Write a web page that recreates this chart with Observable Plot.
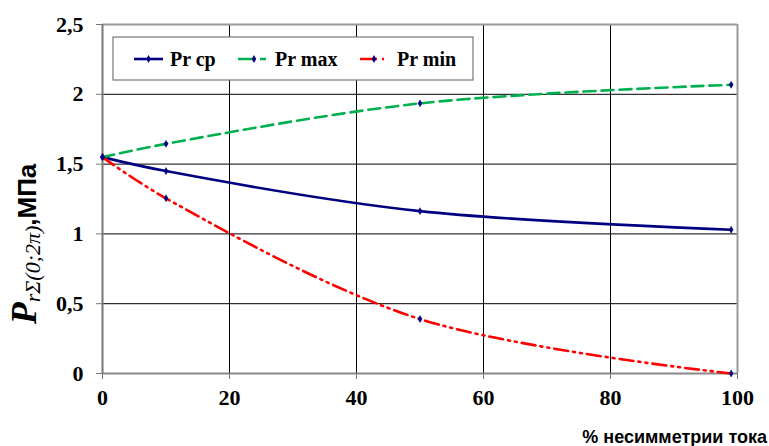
<!DOCTYPE html>
<html><head><meta charset="utf-8">
<script src="https://cdn.jsdelivr.net/npm/d3@7"></script>
<script src="https://cdn.jsdelivr.net/npm/@observablehq/plot@0.6"></script>
<style>body{margin:0;background:#fff}
#chart svg text, #chart svg tspan {font-family: 'Liberation Serif', 'Times New Roman', serif !important;}
#chart svg .sans {font-family: 'Liberation Sans', Arial, sans-serif !important;}
</style>
</head><body><div id="chart"></div>
<script>
const xs = [0, 10, 50, 99];
const prCp = [1.55, 1.45, 1.163, 1.03];
const prMax = [1.55, 1.645, 1.935, 2.068];
const prMin = [1.55, 1.255, 0.39, 0.0];
const seriesNames = ["Pr cp", "Pr max", "Pr min"];
const xTicks = [0, 20, 40, 60, 80, 100];
const yTicks = [0, 0.5, 1, 1.5, 2, 2.5];

const colors = {"Pr cp": "#000080", "Pr max": "#00B050", "Pr min": "#FF0000"};
const dashes = {"Pr cp": null, "Pr max": "12,6", "Pr min": "14,5,2,5,2,5"};
const vals = {"Pr cp": prCp, "Pr max": prMax, "Pr min": prMin};
const data = seriesNames.flatMap(s => xs.map((x, i) => ({s, x, y: vals[s][i]})));

const serif = "'Liberation Serif', 'Times New Roman', serif";
const sans = "'Liberation Sans', Arial, sans-serif";
const fmt = d => String(d).replace(".", ",");
const tickText = {fontSize: 22, fontWeight: "bold", fill: "#000"};

const chart = Plot.plot({
  width: 769, height: 446,
  marginLeft: 102, marginRight: 32, marginTop: 24, marginBottom: 73,
  style: {background: "#fff"},
  x: {domain: [0, 100], label: null},
  y: {domain: [0, 2.5], label: null},
  marks: [
    Plot.gridY(yTicks, {stroke: "#000", strokeOpacity: 1, strokeWidth: 1}),
    Plot.gridX(xTicks.filter(d => d > 0 && d < 100), {stroke: "#000", strokeOpacity: 1, strokeWidth: 1}),
    Plot.ruleY([2.5], {stroke: "#999", strokeWidth: 2}),
    Plot.ruleX([100], {stroke: "#999", strokeWidth: 2}),
    Plot.ruleY([0], {stroke: "#888", strokeWidth: 2}),
    Plot.ruleX([0], {stroke: "#777", strokeWidth: 2}),
    Plot.axisX({ticks: xTicks, tickFormat: fmt, tickSize: 6, tickPadding: 10, stroke: "#777", ...tickText}),
    Plot.axisY({ticks: yTicks, tickFormat: fmt, tickSize: 6, tickPadding: 13, stroke: "#777", ...tickText}),
    ...seriesNames.map(s => Plot.line(data.filter(d => d.s === s), {
      x: "x", y: "y", stroke: colors[s], strokeWidth: 2.6, curve: "catmull-rom",
      strokeDasharray: dashes[s]
    })),
    Plot.dot(data, {x: "x", y: "y", symbol: "diamond", r: 2.1, fill: "#000080", stroke: "#000080", strokeWidth: 0.5})
  ]
});

const svg = d3.select(chart);
// Legend
const lg = svg.append("g");
lg.append("rect").attr("x", 113).attr("y", 37).attr("width", 360).attr("height", 43)
  .attr("fill", "#fff").attr("stroke", "#777").attr("stroke-width", 1.2);
const entries = [
  {s: "Pr cp", x0: 134, x1: 163, tx: 170},
  {s: "Pr max", x0: 238, x1: 270, tx: 275},
  {s: "Pr min", x0: 360, x1: 388, tx: 397}
];
entries.forEach(e => {
  lg.append("line").attr("x1", e.x0).attr("x2", e.x1).attr("y1", 59).attr("y2", 59)
    .attr("stroke", colors[e.s]).attr("stroke-width", 2.6)
    .attr("stroke-dasharray", e.s === "Pr max" ? "17,5,6" : e.s === "Pr min" ? "17,5,2" : null);
  lg.append("path").attr("d", d3.symbol(d3.symbolDiamond, 18)()).attr("transform", `translate(${(e.x0+e.x1)/2},59)`)
    .attr("fill", "#000080");
  lg.append("text").attr("x", e.tx).attr("y", 66).attr("text-anchor", "start").text(e.s)
    .attr("font-family", serif).attr("font-weight", "bold").attr("font-size", 20).attr("fill", "#000");
});
// X label
svg.append("text").attr("class", "sans").attr("x", 767).attr("y", 443).attr("text-anchor", "end")
  .attr("font-family", sans).attr("font-weight", "bold").attr("font-size", 18)
  .attr("fill", "#000").text("% несимметрии тока");
// Y label
const yl = svg.append("text").attr("transform", "translate(36,244) rotate(-90)").attr("text-anchor", "middle")
  .attr("fill", "#000");
yl.append("tspan").attr("font-style", "italic").attr("font-weight", "bold")
  .attr("font-size", 36).text("P");
yl.append("tspan").attr("font-style", "italic")
  .attr("font-size", 22).attr("dy", 4).text("rΣ(0;2π)");
yl.append("tspan").attr("class", "sans").attr("font-weight", "bold")
  .attr("font-size", 26).attr("dy", -4).text(",МПа");

document.getElementById("chart").appendChild(chart);
</script></body></html>
